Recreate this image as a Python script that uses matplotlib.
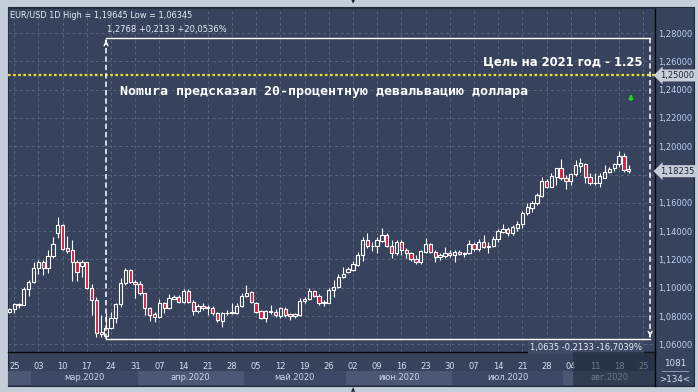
import numpy as np
import pandas as pd
import matplotlib
matplotlib.use("Agg")
import matplotlib.pyplot as plt
from matplotlib.patches import Rectangle
from matplotlib.transforms import blended_transform_factory

# ---------------- data ----------------
start_date = "2020-02-24"
end_date = "2020-08-20"
axis_end_date = "2020-08-31"

opens = [1.0826, 1.0847, 1.0878, 1.0878, 1.0988,
         1.1042, 1.1137, 1.1182, 1.1137, 1.1226,
         1.1384, 1.1443, 1.1278, 1.1266, 1.1182,
         1.1156, 1.1179, 1.0995, 1.0913, 1.0690,
         1.0660, 1.0717, 1.0783, 1.0885, 1.1031,
         1.1125, 1.1043, 1.1026, 1.0960, 1.0854,
         1.0812, 1.0791, 1.0890, 1.0854, 1.0922,
         1.0937, 1.0901, 1.0979, 1.0901, 1.0835,
         1.0868, 1.0856, 1.0857, 1.0819, 1.0767,
         1.0819, 1.0823, 1.0823, 1.0871, 1.0941,
         1.0972, 1.0894, 1.0838, 1.0788, 1.0836,
         1.0831, 1.0802, 1.0850, 1.0814, 1.0798,
         1.0807, 1.0908, 1.0918, 1.0974, 1.0941,
         1.0889, 1.0894, 1.0984, 1.1002, 1.1073,
         1.1109, 1.1125, 1.1160, 1.1231, 1.1337,
         1.1292, 1.1295, 1.1333, 1.1372, 1.1295,
         1.1243, 1.1325, 1.1266, 1.1248, 1.1203,
         1.1184, 1.1255, 1.1309, 1.1250, 1.1215,
         1.1224, 1.1248, 1.1231, 1.1255, 1.1240,
         1.1243, 1.1309, 1.1271, 1.1325, 1.1288,
         1.1295, 1.1344, 1.1396, 1.1415, 1.1384,
         1.1419, 1.1450, 1.1525, 1.1566, 1.1596,
         1.1648, 1.1754, 1.1714, 1.1785, 1.1843,
         1.1773, 1.1756, 1.1801, 1.1862, 1.1874,
         1.1785, 1.1737, 1.1737, 1.1778, 1.1815,
         1.1843, 1.1872, 1.1931, 1.1836]
highs = [1.0854, 1.0894, 1.0891, 1.1003, 1.1054,
         1.1182, 1.1196, 1.1196, 1.1266, 1.1361,
         1.1502, 1.1450, 1.1365, 1.1337, 1.1196,
         1.1196, 1.1184, 1.1026, 1.0937, 1.0807,
         1.0819, 1.0831, 1.0890, 1.1066, 1.1140,
         1.1130, 1.1054, 1.1045, 1.0965, 1.0866,
         1.0831, 1.0922, 1.0901, 1.0955, 1.0948,
         1.0948, 1.0988, 1.0990, 1.0913, 1.0885,
         1.0889, 1.0878, 1.0871, 1.0831, 1.0831,
         1.0842, 1.0889, 1.0889, 1.0965, 1.1019,
         1.0977, 1.0901, 1.0842, 1.0842, 1.0878,
         1.0847, 1.0866, 1.0861, 1.0824, 1.0819,
         1.0925, 1.0932, 1.0995, 1.0984, 1.0953,
         1.0913, 1.0995, 1.1054, 1.1097, 1.1144,
         1.1149, 1.1191, 1.1255, 1.1361, 1.1384,
         1.1325, 1.1361, 1.1420, 1.1384, 1.1337,
         1.1337, 1.1337, 1.1278, 1.1255, 1.1231,
         1.1266, 1.1349, 1.1314, 1.1266, 1.1243,
         1.1285, 1.1266, 1.1266, 1.1266, 1.1255,
         1.1337, 1.1325, 1.1342, 1.1372, 1.1325,
         1.1365, 1.1412, 1.1450, 1.1427, 1.1443,
         1.1474, 1.1542, 1.1601, 1.1613, 1.1667,
         1.1785, 1.1766, 1.1808, 1.1848, 1.1910,
         1.1796, 1.1808, 1.1902, 1.1914, 1.1879,
         1.1808, 1.1808, 1.1808, 1.1867, 1.1855,
         1.1879, 1.19645, 1.1950, 1.1867]
lows = [1.0819, 1.0824, 1.0858, 1.0875, 1.0941,
        1.1031, 1.1097, 1.1090, 1.1101, 1.1207,
        1.1349, 1.1266, 1.1243, 1.1050, 1.1050,
        1.1073, 1.0988, 1.0807, 1.0654, 1.0654,
        1.06345, 1.0705, 1.0748, 1.0866, 1.1019,
        1.1031, 1.0925, 1.0948, 1.0807, 1.0767,
        1.0760, 1.0783, 1.0819, 1.0849, 1.0918,
        1.0890, 1.0890, 1.0890, 1.0807, 1.0819,
        1.0842, 1.0807, 1.0807, 1.0760, 1.0725,
        1.0807, 1.0814, 1.0814, 1.0866, 1.0937,
        1.0894, 1.0824, 1.0776, 1.0760, 1.0814,
        1.0795, 1.0783, 1.0795, 1.0772, 1.0783,
        1.0802, 1.0894, 1.0913, 1.0932, 1.0878,
        1.0871, 1.0889, 1.0932, 1.0995, 1.1066,
        1.1101, 1.1120, 1.1153, 1.1191, 1.1278,
        1.1259, 1.1243, 1.1325, 1.1285, 1.1208,
        1.1231, 1.1231, 1.1208, 1.1191, 1.1167,
        1.1167, 1.1248, 1.1243, 1.1184, 1.1196,
        1.1208, 1.1220, 1.1184, 1.1231, 1.1220,
        1.1238, 1.1262, 1.1262, 1.1278, 1.1247,
        1.1290, 1.1325, 1.1389, 1.1365, 1.1372,
        1.1403, 1.1419, 1.1514, 1.1537, 1.1584,
        1.1639, 1.1702, 1.1709, 1.1726, 1.1761,
        1.1695, 1.1726, 1.1789, 1.1815, 1.1742,
        1.1726, 1.1726, 1.1709, 1.1773, 1.1808,
        1.1827, 1.1855, 1.1820, 1.1808]
closes = [1.0847, 1.0882, 1.0882, 1.0988, 1.1040,
          1.1137, 1.1182, 1.1137, 1.1226, 1.1309,
          1.1443, 1.1273, 1.1262, 1.1179, 1.1109,
          1.1179, 1.0995, 1.0913, 1.0682, 1.0672,
          1.0713, 1.0783, 1.0885, 1.1031, 1.1125,
          1.1038, 1.1026, 1.0963, 1.0854, 1.0807,
          1.0791, 1.0890, 1.0854, 1.0925, 1.0937,
          1.0901, 1.0979, 1.0901, 1.0835, 1.0871,
          1.0854, 1.0861, 1.0819, 1.0772, 1.0819,
          1.0823, 1.0826, 1.0871, 1.0941, 1.0965,
          1.0901, 1.0831, 1.0788, 1.0838, 1.0831,
          1.0807, 1.0854, 1.0807, 1.0800, 1.0814,
          1.0906, 1.0920, 1.0979, 1.0941, 1.0889,
          1.0901, 1.0984, 1.1002, 1.1073, 1.1097,
          1.1132, 1.1167, 1.1231, 1.1337, 1.1295,
          1.1295, 1.1337, 1.1372, 1.1295, 1.1248,
          1.1325, 1.1266, 1.1243, 1.1200, 1.1184,
          1.1262, 1.1309, 1.1250, 1.1215, 1.1231,
          1.1248, 1.1231, 1.1255, 1.1238, 1.1243,
          1.1309, 1.1271, 1.1325, 1.1290, 1.1295,
          1.1344, 1.1401, 1.1412, 1.1384, 1.1427,
          1.1450, 1.1525, 1.1568, 1.1596, 1.1655,
          1.1754, 1.1714, 1.1789, 1.1843, 1.1773,
          1.1756, 1.1801, 1.1867, 1.1879, 1.1785,
          1.1737, 1.1740, 1.1789, 1.1815, 1.1839,
          1.1872, 1.1931, 1.1832, 1.18235]

price_levels = [1.06, 1.08, 1.10, 1.12, 1.14, 1.16, 1.18, 1.20, 1.22, 1.24, 1.26, 1.28]
# the 1,18000 label is hidden behind the current-price box in the original
price_labels = ["1,06000", "1,08000", "1,10000", "1,12000", "1,14000", "1,16000",
                "", "1,20000", "1,22000", "1,24000", "1,26000", "1,28000"]
tick_first, tick_last = "2020-02-25", "2020-08-25"
tick_labels = ["25", "03", "10", "17", "24", "31", "07", "14", "21", "28", "05", "12", "19",
               "26", "02", "09", "16", "23", "30", "07", "14", "21", "28", "04", "11", "18", "25"]
month_starts = ["2020-02-01", "2020-03-01", "2020-04-01", "2020-05-01", "2020-06-01",
                "2020-07-01", "2020-08-01"]
month_labels = ["", "мар.2020", "апр.2020", "май.2020", "июн.2020", "июл.2020", "авг.2020"]

target_price = 1.25
target_label = "1,25000"
last_price = 1.18235
last_label = "1,18235"
measure_hi = 1.2768
measure_lo = 1.06345
measure_start = "2020-03-23"
measure_end = "2020-08-26"
measure_top_text = "1,2768 +0,2133 +20,0536%"
measure_bot_text = "1,0635 -0,2133 -16,7039%"
header_text = "EUR/USD 1D High = 1,19645 Low = 1,06345"
goal_text = "Цель на 2021 год - 1.25"
nomura_text = "Nomura предсказал 20-процентную девальвацию доллара"
corner_top, corner_bot = "1081", ">134<"

# ---------------- layout ----------------
W, H = 698, 392
BG = "#37435d"
FRAME = "#c4ced9"
TXT = "#d6e0f0"
AXTXT = "#bcd0ee"

fig = plt.figure(figsize=(W / 100, H / 100), dpi=100, facecolor=FRAME)

def fxy(px, py):
    return px / W, 1 - py / H

# dark panel
x0, y0 = fxy(8, 386)
fig.add_artist(Rectangle((x0, y0), (694 - 8) / W, (386 - 7) / H, transform=fig.transFigure,
                         fc=BG, ec="#222a38", lw=0.8, zorder=0))

ax = fig.add_axes([8 / W, (H - 352) / H, 647 / W, 344 / H])
ax.set_facecolor(BG)

days = pd.bdate_range(start_date, axis_end_date)
data_days = pd.bdate_range(start_date, end_date)
o = np.array(opens); h = np.array(highs); l = np.array(lows); c = np.array(closes)
k = np.arange(len(data_days))

ax.set_xlim(-0.27, 133.41)
ax.set_ylim(1.05456, 1.29767)

# grid & ticks
tick_pos = days.get_indexer(pd.date_range(tick_first, tick_last, freq="7D"))
ax.set_xticks(tick_pos)
ax.set_xticklabels(tick_labels)
ax.set_yticks(price_levels)
ax.set_yticklabels(price_labels)
ax.yaxis.tick_right()
ax.tick_params(axis="both", length=0, labelsize=6, labelcolor=AXTXT)
ax.tick_params(axis="x", pad=7, labelcolor=TXT)
ax.tick_params(axis="y", pad=2)
for t in ax.get_xticklabels() + ax.get_yticklabels():
    t.set_fontfamily("DejaVu Sans")
ax.grid(True, color="#5a6680", lw=0.7, ls=(0, (3, 3)))
ax.set_axisbelow(True)
for s in ["left", "top"]:
    ax.spines[s].set_color("#222a38")
    ax.spines[s].set_linewidth(0.6)
for s in ["right", "bottom"]:
    ax.spines[s].set_color("#05070a")
    ax.spines[s].set_linewidth(1.0)

# candles
up = c >= o
ax.vlines(k, l, h, color="white", lw=0.8, zorder=3)
lo_b = np.minimum(o, c)
hb = np.maximum(np.abs(c - o), 0.00018)
ax.bar(k[up], hb[up], bottom=lo_b[up], width=0.68, color=BG, edgecolor="white", lw=0.8, zorder=4)
ax.bar(k[~up], hb[~up], bottom=lo_b[~up], width=0.68, color="#dc1c3c", edgecolor="white", lw=0.8, zorder=4)

# target line
ax.axhline(target_price, color="#e6e32a", lw=1.6, ls=(0, (1.2, 1.1)), zorder=5)

# measurement tool
ks = days.get_loc(pd.Timestamp(measure_start))
ke = days.get_loc(pd.Timestamp(measure_end)) + 0.4
ax.plot([ks, ke], [measure_hi, measure_hi], color="white", lw=1.0, zorder=6)
ax.plot([ks, ke], [measure_lo, measure_lo], color="white", lw=1.0, zorder=6)
ax.plot([ks, ks], [measure_lo, measure_hi], color="white", lw=1.1, ls=(0, (3.5, 2)), zorder=6)
ax.plot([ke, ke], [measure_hi, measure_lo], color="white", lw=1.1, ls=(0, (3.5, 2)), zorder=6)
ax.annotate("", xy=(ks, measure_hi), xytext=(ks, measure_hi - 0.004),
            arrowprops=dict(arrowstyle="->", color="white", lw=1.0, mutation_scale=7), zorder=7)
ax.annotate("", xy=(ke, measure_lo), xytext=(ke, measure_lo + 0.004),
            arrowprops=dict(arrowstyle="->", color="white", lw=1.0, mutation_scale=7), zorder=7)
ax.annotate(measure_top_text, xy=(ks, measure_hi), xytext=(1, 8), textcoords="offset pixels",
            ha="left", va="center", fontsize=6.0, color="#e8eef8", family="DejaVu Sans")
ax.annotate(measure_bot_text, xy=(ke, measure_lo), xytext=(-8, -8), textcoords="offset pixels",
            ha="right", va="center", fontsize=6.0, color="#e8eef8", family="DejaVu Sans",
            bbox=dict(boxstyle="square,pad=0.2", fc="#3f4b66", ec="none"), zorder=8)

# texts
fig.text(*fxy(10, 15), header_text, ha="left", va="center", fontsize=5.9, color="#e8eef8",
         family="DejaVu Sans")
ax.text((642 - 8) / 647, (352 - 62) / 344, goal_text, transform=ax.transAxes, ha="right",
        va="center", fontsize=8.4, color="white", fontweight="bold", family="DejaVu Sans", zorder=8)
ax.text((120 - 8) / 647, (352 - 92) / 344, nomura_text, transform=ax.transAxes, ha="left",
        va="center", fontsize=9.6, color="white", family="DejaVu Sans Mono", fontweight="bold",
        zorder=8)
ax.annotate("", xy=((631 - 8) / 647, (352 - 91) / 344), xytext=((631 - 8) / 647, (352 - 103) / 344),
            xycoords="axes fraction", textcoords="axes fraction",
            arrowprops=dict(arrowstyle="-|>", color="#22d022", lw=1.3, mutation_scale=6))

# right-axis boxed labels
ybt = blended_transform_factory(ax.transAxes, ax.transData)
for val, lab in [(target_price, target_label), (last_price, last_label)]:
    ax.text(1.0 + 5 / 647, val, lab, transform=ybt, ha="left", va="center", fontsize=6,
            color="#1c2232", family="DejaVu Sans", clip_on=False, zorder=9,
            bbox=dict(boxstyle="larrow,pad=0.18", fc="#c8ced8", ec="none"))

# month row
xt = blended_transform_factory(ax.transData, fig.transFigure)
ms = [max(days.searchsorted(pd.Timestamp(m)) - 0.5, -0.27) for m in month_starts] + [133.41]
row_b, row_h = 1 - 385 / H, 14 / H
for i, lab in enumerate(month_labels):
    col = "#4b5773" if i % 2 == 0 else "#3d4964"
    fig.add_artist(Rectangle((ms[i], row_b), ms[i + 1] - ms[i], row_h, transform=xt,
                             fc=col, ec="none", zorder=1))
    if lab:
        fig.text((ms[i] + ms[i + 1]) / 2, 1 - 378 / H, lab, transform=xt, ha="center", va="center",
                 fontsize=6, color="#c8d6ec", family="DejaVu Sans", zorder=2)

# dim overlay (bottom right)
fig.add_artist(Rectangle(fxy(573, 386), (655 - 573) / W, 34 / H, transform=fig.transFigure,
                         fc="#1c2438", alpha=0.55, ec="none", zorder=20))

# corner box
fig.add_artist(plt.Line2D([fxy(655, 0)[0]] * 2, [fxy(0, 352)[1], fxy(0, 386)[1]], transform=fig.transFigure,
                          color="#05070a", lw=1.0, zorder=21))
fig.text(*fxy(675, 363), corner_top, ha="center", va="center", fontsize=6.3, color=TXT,
         family="DejaVu Sans", zorder=21)
fig.add_artist(plt.Line2D([fxy(662, 0)[0], fxy(688, 0)[0]], [fxy(0, 371)[1]] * 2, transform=fig.transFigure,
                          color="#9aa8c0", lw=0.6, zorder=21))
fig.text(*fxy(675, 379), corner_bot, ha="center", va="center", fontsize=6.3, color=TXT,
         family="DejaVu Sans", zorder=21)
fig.text(*fxy(353, 2), "▼", ha="center", va="center", fontsize=4, color="#1c2232", family="DejaVu Sans")
fig.text(*fxy(353, 390), "▲", ha="center", va="center", fontsize=4, color="#1c2232", family="DejaVu Sans")

fig.savefig("out.png", dpi=100, facecolor=FRAME)
